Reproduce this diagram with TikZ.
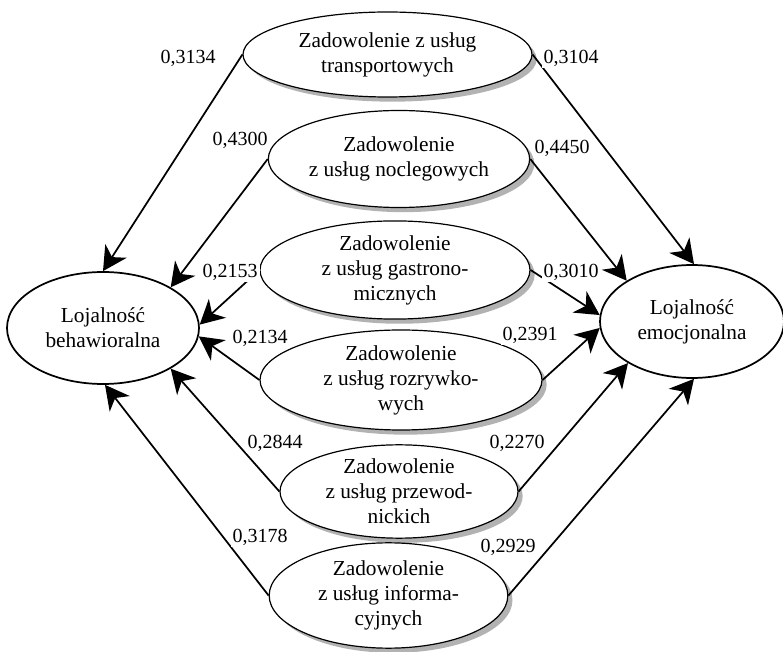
\documentclass[tikz,border=0pt]{standalone}
\usepackage{fontspec}
\setmainfont{Liberation Serif}
\usetikzlibrary{shapes.geometric,shadows,arrows.meta}
\begin{document}
\begin{tikzpicture}[x=0.75pt,y=-0.75pt,
    zad/.style={ellipse,draw,line width=0.9pt,fill=white,align=center,inner sep=0pt,
        drop shadow={shadow xshift=3.5pt,shadow yshift=-3.5pt,fill=gray!60,opacity=1},
        font=\fontsize{16}{18.75}\selectfont},
    loj/.style={ellipse,draw,line width=1.3pt,fill=white,align=center,inner sep=0pt,
        font=\fontsize{16}{18.75}\selectfont},
    wsp/.style={fill=white,inner sep=1.5pt,font=\fontsize{15}{18}\selectfont},
    strz/.style={line width=1.3pt,-{Stealth[length=18pt,width=19pt,inset=5.5pt]}}]
    % obszar rysunku
    \useasboundingbox (0,0) rectangle (783,652);
    % zadowolenie z uslug
    \node[zad,minimum width=216.75pt,minimum height=63.75pt] (trans) at (387.5,54.5)
        {Zadowolenie z usług\\transportowych};
    \node[zad,minimum width=196pt,minimum height=72.75pt] (nocl) at (399,159)
        {Zadowolenie\\z usług noclegowych};
    \node[zad,minimum width=202.5pt,minimum height=73.5pt] (gast) at (395,270)
        {Zadowolenie\\z usług gastrono-\\micznych};
    \node[zad,minimum width=211.5pt,minimum height=75pt] (rozr) at (401,380)
        {Zadowolenie\\z usług rozrywko-\\wych};
    \node[zad,minimum width=178.5pt,minimum height=70pt] (przew) at (399,491.5)
        {Zadowolenie\\z usług przewod-\\nickich};
    \node[zad,minimum width=179pt,minimum height=79pt] (info) at (388.5,595.5)
        {Zadowolenie\\z usług informa-\\cyjnych};
    % lojalnosc
    \node[loj,minimum width=144pt,minimum height=84pt] (beh) at (103,328)
        {Lojalność\\behawioralna};
    \node[loj,minimum width=138pt,minimum height=84.75pt] (emo) at (692,321.5)
        {Lojalność\\emocjonalna};
    % strzalki w lewo
    \draw[strz] (trans.west) -- (beh.north);
    \draw[strz] (nocl.west) -- (beh.31);
    \draw[strz] (gast.west) -- (beh.2);
    \draw[strz] (rozr.west) -- (beh.-5);
    \draw[strz] (przew.west) -- (beh.-31);
    \draw[strz] (info.west) -- (beh.-88);
    % strzalki w prawo
    \draw[strz] (trans.east) -- (emo.88);
    \draw[strz] (nocl.east) -- (emo.148);
    \draw[strz] (gast.east) -- (emo.176);
    \draw[strz] (rozr.east) -- (emo.184);
    \draw[strz] (przew.east) -- (emo.213);
    \draw[strz] (info.east) -- (emo.-88);
    % wspolczynniki
    \node[wsp] (l1) at (188,58) {0,3134};
    \node[wsp] (l2) at (240,140) {0,4300};
    \node[wsp] (l3) at (230,272) {0,2153};
    \node[wsp] (l4) at (260,338) {0,2134};
    \node[wsp] (l5) at (275,443) {0,2844};
    \node[wsp] (l6) at (260,537) {0,3178};
    \node[wsp] (r1) at (571,58) {0,3104};
    \node[wsp] (r2) at (562,148) {0,4450};
    \node[wsp] (r3) at (571,272) {0,3010};
    \node[wsp] (r4) at (530,335) {0,2391};
    \node[wsp] (r5) at (517,443) {0,2270};
    \node[wsp] (r6) at (508,547) {0,2929};
\end{tikzpicture}
\end{document}
